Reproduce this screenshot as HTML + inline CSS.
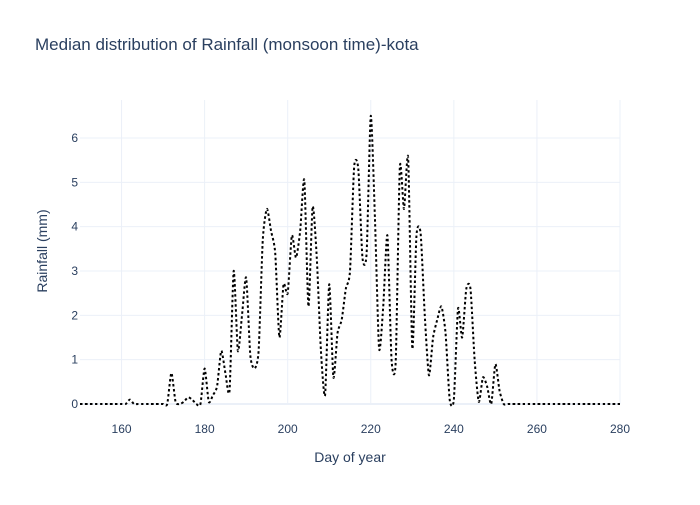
<!DOCTYPE html>
<html><head><meta charset="utf-8"><style>
body{margin:0;background:#fff;}
svg{font-family:"Liberation Sans",sans-serif;}
</style></head><body>
<svg id="chart" width="700" height="500">
<text x="35" y="50" font-size="17" fill="#2a3f5f">Median distribution of Rainfall (monsoon time)-kota</text>
<g id="grid"></g>
<g id="ticks"></g>
<path id="line" fill="none" stroke="#000" stroke-width="2" stroke-dasharray="2.5,2.5"></path>
<text x="350" y="462" font-size="14" fill="#2a3f5f" text-anchor="middle">Day of year</text>
<text transform="translate(47,251) rotate(-90)" font-size="14" fill="#2a3f5f" text-anchor="middle">Rainfall (mm)</text>
</svg>
<script>
const days = [];
for (let d = 150; d <= 280; d++) days.push(d);
const rainfall = [
0,0,0,0,0,0,0,0,0,0,0,0,0.1,0,0,0,0,0,0,0,0,0,0.7,0.05,0,0.05,0.15,0.1,0,0,
0.8,0.05,0.2,0.4,1.2,0.7,0.3,3.0,1.2,2.0,2.85,1.1,0.8,1.2,3.7,4.4,3.9,3.4,1.5,2.7,
2.5,3.8,3.3,3.9,5.05,2.2,4.45,3.3,1.2,0.2,2.7,0.6,1.6,1.9,2.6,3.0,5.35,5.3,3.3,3.4,
6.5,4.2,1.25,2.2,3.8,1.0,0.95,5.35,4.4,5.55,1.25,3.8,3.85,2.0,0.65,1.5,1.9,2.2,1.6,0.1,
0.1,2.15,1.5,2.6,2.6,1.0,0.05,0.6,0.4,0.0,0.9,0.3,0,0,0,0,0,0,0,0,
0,0,0,0,0,0,0,0,0,0,0,0,0,0,0,0,0,0,0,0,0
];
const xTicks = [160,180,200,220,240,260,280];
const yTicks = [0,1,2,3,4,5,6];
const X0=80, X1=620, Y0=404, Yk=44.33;
const xs = d => X0 + (d-150)*(X1-X0)/130;
const ys = v => Y0 - v*Yk;
const ns="http://www.w3.org/2000/svg";
const grid=document.getElementById('grid'), ticks=document.getElementById('ticks');
xTicks.forEach(t=>{
  const l=document.createElementNS(ns,'line');
  l.setAttribute('x1',xs(t));l.setAttribute('x2',xs(t));l.setAttribute('y1',100);l.setAttribute('y2',404);
  l.setAttribute('stroke','#ebf0f8');
  
  
  grid.appendChild(l);
  const tx=document.createElementNS(ns,'text');
  tx.setAttribute('x',xs(t));tx.setAttribute('y',433);tx.setAttribute('font-size','12');tx.setAttribute('fill','#2a3f5f');tx.setAttribute('text-anchor','middle');
  tx.textContent=t;
  
  
  ticks.appendChild(tx);
});
yTicks.forEach(t=>{
  const l=document.createElementNS(ns,'line');
  l.setAttribute('x1',X0);l.setAttribute('x2',X1);l.setAttribute('y1',ys(t));l.setAttribute('y2',ys(t));
  l.setAttribute('stroke','#ebf0f8');l.setAttribute('stroke-width',t===0?2:1);
  
  
  grid.appendChild(l);
  const tx=document.createElementNS(ns,'text');
  tx.setAttribute('x',78);tx.setAttribute('y',ys(t)+4);tx.setAttribute('font-size','12');tx.setAttribute('fill','#2a3f5f');tx.setAttribute('text-anchor','end');
  tx.textContent=t;
  
  
  ticks.appendChild(tx);
});
const pts=days.map((d,i)=>[xs(d),ys(rainfall[i])]);
let p='M'+pts[0][0]+','+pts[0][1];
const k=0.22;
for(let i=0;i<pts.length-1;i++){
  const p0=pts[Math.max(0,i-1)],p1=pts[i],p2=pts[i+1],p3=pts[Math.min(pts.length-1,i+2)];
  const c1=[p1[0]+(p2[0]-p0[0])*k/2,p1[1]+(p2[1]-p0[1])*k/2];
  const c2=[p2[0]-(p3[0]-p1[0])*k/2,p2[1]-(p3[1]-p1[1])*k/2];
  p+=' C'+c1[0]+','+c1[1]+' '+c2[0]+','+c2[1]+' '+p2[0]+','+p2[1];
}
document.getElementById('line').setAttribute('d',p);
</script>
</body></html>
